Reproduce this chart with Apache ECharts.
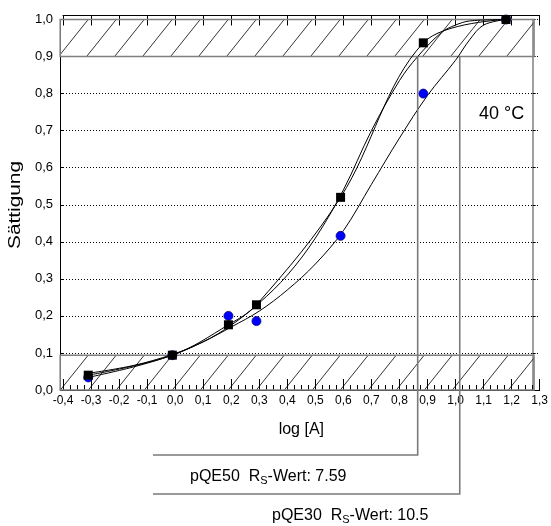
<!DOCTYPE html>
<html>
<head>
<meta charset="utf-8">
<script src="https://cdn.jsdelivr.net/npm/echarts@6/dist/echarts.min.js"></script>
<style>
html,body{margin:0;padding:0;background:#fff;}
#chart{width:551px;height:526px;}
</style>
</head>
<body>
<div id="chart"></div>
<script>
// ---- data ----
const xPoints = [-0.31, -0.01, 0.19, 0.29, 0.59, 0.885, 1.18];
const squareY = [0.04, 0.094, 0.176, 0.23, 0.52, 0.937, 1.0];
const circleY = [0.034, 0.094, 0.20, 0.186, 0.416, 0.80, 1.0];

const fitSquaresX = [-0.31, -0.15, -0.01, 0.1, 0.2, 0.3, 0.4, 0.5, 0.6, 0.7, 0.8, 0.865, 0.95, 1.0, 1.05, 1.18];
const fitSquaresY = [0.045, 0.066, 0.096, 0.13, 0.175, 0.235, 0.31, 0.41, 0.54, 0.70, 0.835, 0.90, 0.965, 0.985, 0.996, 1.0];

const fitCirclesX = [-0.31, -0.15, -0.01, 0.1, 0.2, 0.3, 0.4, 0.5, 0.6, 0.7, 0.8, 0.9, 1.0, 1.05, 1.1, 1.18];
const fitCirclesY = [0.034, 0.062, 0.094, 0.13, 0.17, 0.213, 0.27, 0.34, 0.43, 0.555, 0.68, 0.795, 0.89, 0.945, 0.985, 1.0];

const bandsY = [[0, 0.094], [0.9, 1.0]];
const bandsX = [-0.41, 1.28];

const pqeNames = ['pQE50', 'pQE30'];
const pqeValues = ['7.59', '10.5'];
const pqeX = [0.865, 1.015];
const pqeLevel = 0.9;

const xMin = -0.4, xMax = 1.3, xStep = 0.1;
const yMin = 0, yMax = 1, yStep = 0.1;
const tempLabel = '40 °C';
const xName = 'log [A]';
const yName = 'Sättigung';

const FONT = 'Liberation Sans, Arial, sans-serif';
const fmt = v => (Math.round(v * 10) / 10).toFixed(1).replace('.', ',').replace('-0,0', '0,0');
const zip = (xs, ys) => xs.map((x, i) => [x, ys[i]]);

const chart = echarts.init(document.getElementById('chart'), null, {renderer: 'canvas'});
const drops = [65, 104];
const HATCH = 28;
const SLANT = 0.8;

function hatchItem(params, api) {
  const p0 = api.coord([bandsX[0], api.value(0)]);
  const p1 = api.coord([bandsX[1], api.value(1)]);
  const L = p0[0], R = p1[0], B = p0[1], T = p1[1];
  const h = B - T;
  const w = h * SLANT;
  const children = [];
  for (let x0 = L - w; x0 < R; x0 += HATCH) {
    let sx = x0, sy = B, ex = x0 + w, ey = T;
    if (sx < L) { sy = B - (L - sx) / SLANT; sx = L; }
    if (ex > R) { ey = T + (ex - R) / SLANT; ex = R; }
    if (ex <= sx) continue;
    children.push({type: 'line', shape: {x1: sx, y1: sy, x2: ex, y2: ey},
      style: {stroke: '#000', lineWidth: 0.8}});
  }
  children.push({type: 'rect', shape: {x: L, y: T, width: R - L, height: h},
    style: {stroke: '#808080', lineWidth: 1.5, fill: null}});
  return {type: 'group', children: children};
}

chart.setOption({
  animation: false,
  backgroundColor: '#fff',
  textStyle: {fontFamily: FONT},
  grid: {left: 63, right: 10, top: 19.5, bottom: 136},
  xAxis: [{
    type: 'value', min: xMin, max: xMax, interval: xStep, position: 'bottom',
    name: xName, nameLocation: 'middle', nameGap: 32,
    nameTextStyle: {fontSize: 16, color: '#000', fontFamily: FONT},
    axisLine: {show: true, onZero: false, lineStyle: {color: '#000', width: 1}},
    axisTick: {show: true, inside: true, length: 11, lineStyle: {color: '#000'}},
    minorTick: {show: true, splitNumber: 4, length: 5, lineStyle: {color: '#000'}},
    axisLabel: {fontSize: 12, color: '#000', margin: 5, formatter: fmt, fontFamily: FONT},
    splitLine: {show: false}
  }, {
    type: 'value', min: xMin, max: xMax, interval: xStep, position: 'top', offset: 4,
    axisLine: {show: true, onZero: false, lineStyle: {color: '#000', width: 1}},
    axisTick: {show: true, inside: true, length: 10, lineStyle: {color: '#000'}},
    axisLabel: {show: false}, splitLine: {show: false}
  }],
  yAxis: [{
    type: 'value', min: yMin, max: yMax, interval: yStep, position: 'left', offset: 3,
    axisLine: {show: true, onZero: false, lineStyle: {color: '#000', width: 1}},
    axisTick: {show: true, inside: true, length: 4, lineStyle: {color: '#000'}},
    axisLabel: {fontSize: 13, color: '#000', margin: 7, formatter: fmt, fontFamily: FONT},
    splitLine: {show: true, lineStyle: {color: '#000', width: 1, type: [1, 2]}}
  }, {
    type: 'value', min: yMin, max: yMax, interval: yStep, position: 'right', offset: -7,
    axisLine: {show: true, onZero: false, lineStyle: {color: '#808080', width: 1.5}},
    axisTick: {show: true, inside: false, length: 3, lineStyle: {color: '#000'}},
    axisLabel: {show: false}, splitLine: {show: false}
  }],
  graphic: [{
    type: 'text', x: 16, y: 205, rotation: Math.PI / 2, scaleX: 1.3,
    style: {text: yName, font: '16px ' + FONT, fill: '#000', align: 'center', verticalAlign: 'middle'}
  }, {
    type: 'text', left: 479, top: 105,
    style: {text: tempLabel, font: '18px ' + FONT, fill: '#000'}
  }].concat(pqeNames.map((n, i) => ({
    type: 'text', left: i === 0 ? 190 : 272, top: i === 0 ? 469 : 508,
    style: {
      text: '{a|' + n + '  R}{s|S}{a|-Wert: ' + pqeValues[i] + '}',
      rich: {
        a: {fontSize: 16, lineHeight: 16, verticalAlign: 'top', fontFamily: FONT, fill: '#000', color: '#000'},
        s: {fontSize: 11, lineHeight: 16, padding: [6, 0, 0, 0], verticalAlign: 'top', fontFamily: FONT, fill: '#000', color: '#000'}
      }
    }
  }))),
  series: [{
    type: 'custom', name: 'bands', clip: false, silent: true, z: 1,
    data: bandsY, renderItem: hatchItem
  }, {
    type: 'line', name: 'fitCircles', data: zip(fitCirclesX, fitCirclesY), smooth: 0.35,
    showSymbol: false, lineStyle: {color: '#000', width: 1}, z: 3
  }, {
    type: 'line', name: 'fitSquares', data: zip(fitSquaresX, fitSquaresY), smooth: 0.35,
    showSymbol: false, lineStyle: {color: '#000', width: 1}, z: 3
  }, {
    type: 'line', name: 'splineSquares', data: zip(xPoints, squareY), smooth: 0.35,
    showSymbol: false, lineStyle: {color: '#000', width: 1}, z: 3
  }, {
    type: 'scatter', name: 'circles', data: zip(xPoints, circleY), symbol: 'circle', symbolSize: 9,
    itemStyle: {color: '#0000ff', borderColor: '#000080', borderWidth: 0.8, opacity: 1}, z: 4
  }, {
    type: 'scatter', name: 'squares', data: zip(xPoints, squareY), symbol: 'rect', symbolSize: 9,
    itemStyle: {color: '#000', opacity: 1}, z: 5
  }, {
    type: 'custom', name: 'pqe', clip: false, silent: true, z: 6,
    data: pqeX.map(x => [x, pqeLevel]),
    renderItem: function (params, api) {
      const top = api.coord([api.value(0), api.value(1)]);
      const base = api.coord([api.value(0), yMin]);
      const leftX = api.coord([xMin, yMin])[0] + 90;
      const by = base[1] + drops[params.dataIndex];
      return {
        type: 'polyline',
        shape: {points: [[top[0], top[1]], [top[0], by], [leftX, by]]},
        style: {stroke: '#7a7a7a', lineWidth: 1.6, fill: null}
      };
    }
  }]
});
</script>
</body>
</html>
